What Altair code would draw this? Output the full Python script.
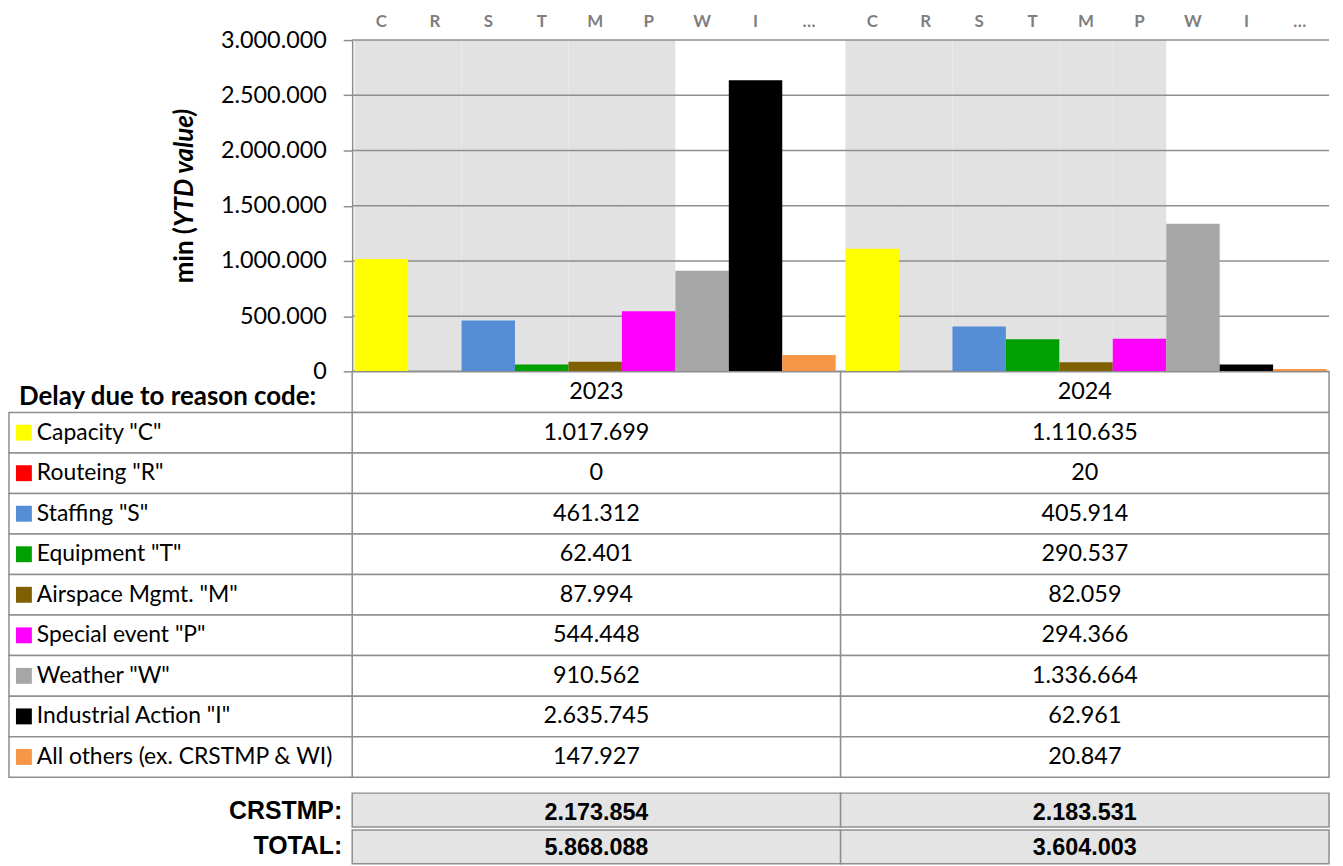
import altair as alt
import pandas as pd

years = ["2023", "2024"]
codes = ["C", "R", "S", "T", "M", "P", "W", "I", "…"]
names = ['Capacity "C"', 'Routeing "R"', 'Staffing "S"', 'Equipment "T"',
         'Airspace Mgmt. "M"', 'Special event "P"', 'Weather "W"',
         'Industrial Action "I"', 'All others (ex. CRSTMP & WI)']
colors = ["#FFFF00", "#FF0000", "#558ED5", "#00A000", "#7F6000",
          "#FF00FF", "#A6A6A6", "#000000", "#F79646"]
v2023 = [1017699, 0, 461312, 62401, 87994, 544448, 910562, 2635745, 147927]
v2024 = [1110635, 20, 405914, 290537, 82059, 294366, 1336664, 62961, 20847]
crstmp_codes = ["C", "R", "S", "T", "M", "P"]
summary_labels = ["CRSTMP:", "TOTAL:"]
crstmp = [2173854, 2183531]
total = [5868088, 3604003]
y_ticks = [0, 500000, 1000000, 1500000, 2000000, 2500000, 3000000]
y_max = 3000000
header_title = "Delay due to reason code:"


def fmt(v):
    return f"{v:,}".replace(",", ".")


FONT = "Lato"
GRID = "#8E8E8E"
NUM_SIZE = 23.5
LAB_SIZE = 23

# ---------- data tables ----------
bars_df = pd.DataFrame(
    [{"year": y, "code": c, "value": v, "name": n}
     for y, vals in zip(years, [v2023, v2024])
     for c, v, n in zip(codes, vals, names)]
)
grey_df = pd.DataFrame(
    [{"year": y, "code": c, "top": y_max} for y in years for c in crstmp_codes]
)
ticks_df = pd.DataFrame({"tick": y_ticks})

row_domain = ["header"] + names
cells_df = pd.DataFrame(
    [{"row": "header", "year": y, "label": y} for y in years]
    + [{"row": n, "year": y, "label": fmt(v)}
       for y, vals in zip(years, [v2023, v2024])
       for n, v in zip(names, vals)]
)
legend_df = pd.DataFrame({"row": names, "code": codes})
summary_df = pd.DataFrame(
    [{"srow": summary_labels[0], "year": y, "label": fmt(v)} for y, v in zip(years, crstmp)]
    + [{"srow": summary_labels[1], "year": y, "label": fmt(v)} for y, v in zip(years, total)]
)
summary_lab_df = pd.DataFrame({"srow": summary_labels})
one = pd.DataFrame({"k": [0]})

# ---------- scales ----------
x_bar = alt.Scale(domain=years, paddingInner=0.02, paddingOuter=0.005)
xo_bar = alt.Scale(domain=codes, paddingInner=0, paddingOuter=0)
y_bar = alt.Scale(domain=[0, y_max], range=[333, 0], nice=False, zero=True)
color_scale = alt.Scale(domain=codes, range=colors)
x_tab = alt.Scale(domain=years, paddingInner=0, paddingOuter=0)
y_tab = alt.Scale(domain=row_domain, range=[333.5, 741], paddingInner=0, paddingOuter=0)
y_sum = alt.Scale(domain=summary_labels, range=[757, 828], paddingInner=0.08, paddingOuter=0)

y_axis = alt.Axis(
    values=y_ticks,
    labelExpr="replace(format(datum.value, ','), regexp(',', 'g'), '.')",
    tickSize=9, labelPadding=17, labelFontSize=NUM_SIZE, labelFont=FONT,
    labelColor="black", domainColor=GRID, tickColor=GRID,
    domainWidth=1.5, tickWidth=1.5, grid=False, title=None,
)

# ---------- chart part ----------
grey = alt.Chart(grey_df).mark_bar(color="#E2E2E2").encode(
    x=alt.X("year:N", scale=x_bar, axis=None),
    xOffset=alt.XOffset("code:N", scale=xo_bar),
    y=alt.Y("top:Q", scale=y_bar, axis=None),
)
grid = alt.Chart(ticks_df).mark_rule(color=GRID, strokeWidth=1.5).encode(
    y=alt.Y("tick:Q", scale=y_bar, axis=None),
)
bars = alt.Chart(bars_df).mark_bar().encode(
    x=alt.X("year:N", scale=x_bar, axis=None),
    xOffset=alt.XOffset("code:N", scale=xo_bar),
    y=alt.Y("value:Q", scale=y_bar, axis=y_axis),
    color=alt.Color("code:N", scale=color_scale, legend=None),
)
letters = alt.Chart(bars_df).mark_text(
    font=FONT, fontSize=17, fontWeight="bold", color="#7F7F7F"
).encode(
    x=alt.X("year:N", scale=x_bar, axis=None),
    xOffset=alt.XOffset("code:N", scale=xo_bar),
    y=alt.value(-18),
    text="code:N",
)
title_a = alt.Chart(one).mark_text(
    text="min   ( ", angle=270, align="right", baseline="middle",
    font=FONT, fontSize=26, fontWeight="bold", color="black"
).encode(x=alt.value(-168), y=alt.value(188))
title_b = alt.Chart(one).mark_text(
    text=" YTD value)", angle=270, align="left", baseline="middle",
    font=FONT, fontSize=26, fontWeight="bold", fontStyle="italic", color="black"
).encode(x=alt.value(-168), y=alt.value(188))

# ---------- table part ----------
cell_rects = alt.Chart(cells_df).mark_rect(
    fill="white", stroke=GRID, strokeWidth=1.5
).encode(
    x=alt.X("year:N", scale=x_tab, axis=None),
    y=alt.Y("row:N", scale=y_tab, axis=None),
)
cell_text = alt.Chart(cells_df).mark_text(
    font=FONT, fontSize=NUM_SIZE, color="black", baseline="middle"
).encode(
    x=alt.X("year:N", scale=x_tab, axis=None),
    y=alt.Y("row:N", scale=y_tab, axis=None),
    text="label:N",
)
left_rects = alt.Chart(legend_df).mark_rect(
    fill="white", stroke=GRID, strokeWidth=1.5
).encode(
    x=alt.value(-345), x2=alt.value(0),
    y=alt.Y("row:N", scale=y_tab, axis=None),
)
squares = alt.Chart(legend_df).mark_point(
    shape="square", filled=True, size=256, opacity=1
).encode(
    x=alt.value(-330),
    y=alt.Y("row:N", scale=y_tab, axis=None),
    color=alt.Color("code:N", scale=color_scale, legend=None),
)
left_text = alt.Chart(legend_df).mark_text(
    align="left", baseline="middle", font=FONT, fontSize=LAB_SIZE, color="black"
).encode(
    x=alt.value(-317),
    y=alt.Y("row:N", scale=y_tab, axis=None),
    text="row:N",
)
header = alt.Chart(pd.DataFrame({"row": ["header"], "t": [header_title]})).mark_text(
    align="left", baseline="middle", font=FONT, fontSize=26, fontWeight="bold",
    color="black", dy=5
).encode(
    x=alt.value(-335),
    y=alt.Y("row:N", scale=y_tab, axis=None),
    text="t:N",
)
sum_rects = alt.Chart(summary_df).mark_rect(
    fill="#E4E4E4", stroke=GRID, strokeWidth=1.5
).encode(
    x=alt.X("year:N", scale=x_tab, axis=None),
    y=alt.Y("srow:N", scale=y_sum, axis=None),
)
sum_text = alt.Chart(summary_df).mark_text(
    font="Liberation Sans", fontSize=23.5,
    fontWeight="bold", color="black", baseline="middle", dy=2
).encode(
    x=alt.X("year:N", scale=x_tab, axis=None),
    y=alt.Y("srow:N", scale=y_sum, axis=None),
    text="label:N",
)
sum_labels = alt.Chart(summary_lab_df).mark_text(
    align="right", baseline="middle", font="Liberation Sans",
    fontSize=25, fontWeight="bold", color="black"
).encode(
    x=alt.value(-10),
    y=alt.Y("srow:N", scale=y_sum, axis=None),
    text="srow:N",
)

chart = alt.layer(
    grey, grid, bars, letters, title_a, title_b,
    cell_rects, cell_text, left_rects, squares, left_text, header,
    sum_rects, sum_text, sum_labels,
).resolve_scale(
    x="independent", y="independent"
).properties(
    width=982, height=828,
    padding={"left": 0, "top": 3, "right": 5, "bottom": 0},
    background="white",
).configure_view(stroke=None)

chart.save("out.html", embed_options={"renderer": "svg", "actions": False})
